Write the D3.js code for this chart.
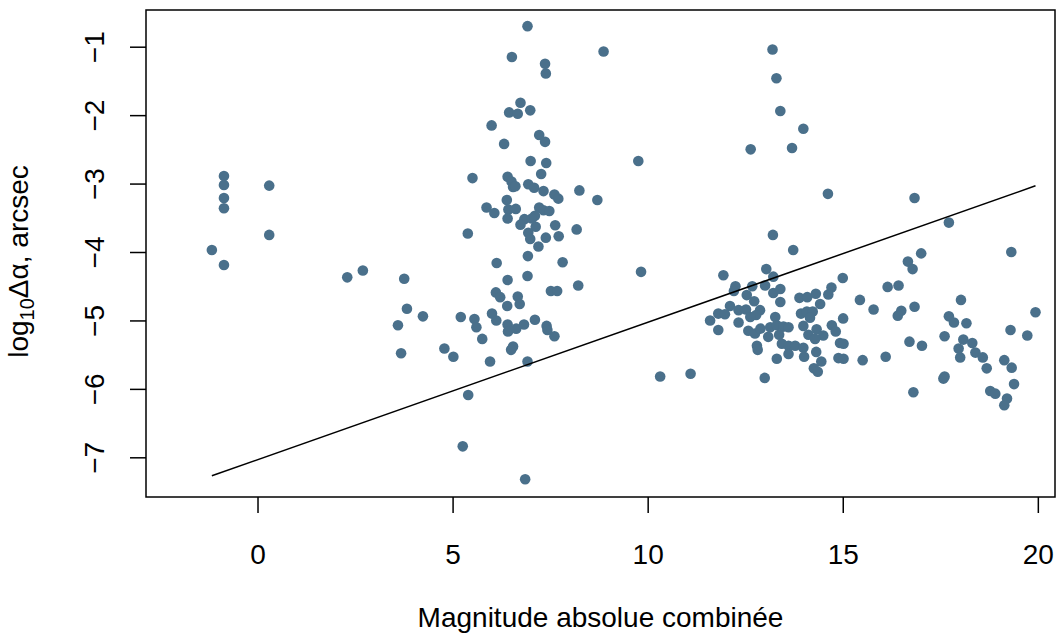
<!DOCTYPE html>
<html>
<head>
<meta charset="utf-8">
<script src="https://cdn.jsdelivr.net/npm/d3@7"></script>
<style>
  html, body { margin: 0; padding: 0; background: #ffffff; }
  svg { display: block; font-family: "Liberation Sans", Arial, Helvetica, sans-serif; }
</style>
</head>
<body>
<svg id="chart" width="1064" height="637"></svg>
<script>
// ---- Data (x = combined absolute magnitude, y = log10 Δα in arcsec) ----
const leftPoints = [
  [-1.17,-3.97],[-0.86,-2.89],[-0.86,-3.02],[-0.86,-3.21],[-0.86,-3.36],[-0.86,-4.19],
  [0.30,-3.03],[0.30,-3.75],[2.30,-4.37],[2.70,-4.27],[3.60,-5.07],[3.68,-5.48],
  [3.76,-4.39],[3.83,-4.83],[4.24,-4.94]
];
const clusterLower = [
  [4.79,-5.41],[5.02,-5.53],[5.21,-4.95],[5.56,-4.98],[5.61,-5.10],[5.76,-5.27],
  [5.96,-5.60],[6.01,-4.90],[6.12,-5.00],[6.13,-4.16],[6.11,-4.59],[6.22,-4.66],
  [6.41,-4.41],[6.40,-4.79],[6.41,-5.06],[6.42,-5.16],[6.63,-5.12],[6.67,-4.65],
  [6.72,-4.76],[6.83,-5.06],[7.11,-4.99],[7.41,-5.08],[7.43,-5.14],[7.61,-5.23],
  [6.55,-5.38],[6.50,-5.43],[6.92,-5.60],[6.92,-4.35],[6.93,-4.06],[7.20,-3.92],
  [7.82,-4.15],[8.22,-4.49],[7.52,-4.57],[7.68,-4.57],[5.40,-6.09],[5.26,-6.84],
  [6.86,-7.32]
];
const clusterUpper = [
  [6.92,-0.70],[6.52,-1.15],[8.87,-1.07],[7.37,-1.25],[7.39,-1.39],[6.74,-1.82],
  [6.45,-1.96],[6.67,-1.98],[6.99,-1.93],[6.00,-2.15],[7.22,-2.29],[7.37,-2.39],
  [6.32,-2.42],[7.00,-2.67],[7.40,-2.70],[7.27,-2.86],[5.51,-2.92],[6.41,-2.90],
  [6.51,-2.97],[6.55,-3.05],[6.61,-3.04],[6.94,-3.01],[7.09,-3.06],[7.33,-3.11],
  [7.61,-3.16],[7.71,-3.22],[8.25,-3.10],[8.71,-3.24],[6.39,-3.24],[5.87,-3.35],
  [6.07,-3.43],[6.43,-3.38],[6.62,-3.37],[6.41,-3.51],[7.22,-3.35],[7.33,-3.39],
  [7.48,-3.40],[7.11,-3.47],[7.03,-3.51],[6.84,-3.52],[6.74,-3.60],[7.13,-3.63],
  [7.63,-3.61],[8.18,-3.67],[5.39,-3.73],[6.94,-3.72],[6.99,-3.81],[7.39,-3.79],
  [7.72,-3.77]
];
const middlePoints = [
  [9.76,-2.67],[9.83,-4.29],[13.20,-1.04],[13.30,-1.46],[13.40,-1.94],[13.99,-2.20],
  [12.64,-2.50],[13.70,-2.48],[14.62,-3.15],[13.21,-3.75],[13.73,-3.97],
  [10.32,-5.82],[11.10,-5.78],[13.00,-5.84]
];
const rightCluster = [
  [11.94,-4.34],[13.04,-4.25],[13.22,-4.36],[12.25,-4.50],[12.21,-4.57],[12.68,-4.50],
  [13.01,-4.49],[15.00,-4.38],[12.54,-4.63],[12.73,-4.72],[13.22,-4.60],[13.40,-4.54],
  [13.40,-4.73],[13.89,-4.67],[14.09,-4.66],[14.31,-4.61],[14.42,-4.76],[14.71,-4.52],
  [14.63,-4.62],[15.44,-4.70],[12.11,-4.79],[11.81,-4.90],[11.98,-4.91],[11.60,-5.00],
  [11.81,-5.14],[12.33,-4.85],[12.52,-4.84],[12.88,-4.85],[12.78,-4.92],[12.63,-4.95],
  [12.33,-5.03],[13.27,-4.95],[13.93,-4.90],[14.08,-4.87],[14.23,-4.87],[14.16,-4.96],
  [15.01,-4.97],[12.58,-5.15],[12.75,-5.19],[12.89,-5.12],[13.14,-5.10],[13.31,-5.07],
  [13.48,-5.09],[13.61,-5.10],[13.09,-5.24],[13.37,-5.21],[13.99,-5.08],[14.12,-5.21],
  [14.33,-5.13],[14.50,-5.22],[14.72,-5.07],[14.82,-5.16],[14.29,-5.27],[13.44,-5.34],
  [13.61,-5.37],[13.78,-5.37],[13.99,-5.40],[13.61,-5.49],[14.01,-5.53],[14.32,-5.46],
  [12.80,-5.37],[12.82,-5.43],[14.93,-5.33],[15.02,-5.34],[13.31,-5.56],[14.45,-5.60],
  [14.89,-5.55],[15.02,-5.56],[15.51,-5.58],[14.26,-5.70],[14.36,-5.75]
];
const farRight = [
  [16.84,-3.21],[17.72,-3.57],[19.32,-4.00],[17.01,-4.02],[16.67,-4.14],[16.79,-4.25],
  [16.15,-4.51],[16.43,-4.49],[18.03,-4.70],[15.79,-4.84],[16.84,-4.80],[16.50,-4.86],
  [16.41,-4.93],[19.94,-4.88],[17.72,-4.94],[17.85,-5.03],[18.17,-5.04],[19.30,-5.14],
  [19.73,-5.22],[17.61,-5.23],[16.71,-5.31],[17.03,-5.37],[18.09,-5.28],[18.32,-5.33],
  [17.97,-5.41],[18.40,-5.47],[18.59,-5.54],[18.01,-5.54],[16.10,-5.53],[19.14,-5.58],
  [19.33,-5.69],[18.69,-5.70],[17.61,-5.82],[17.58,-5.85],[19.39,-5.93],[16.81,-6.05],
  [18.78,-6.03],[18.91,-6.07],[19.21,-6.14],[19.14,-6.24]
];
const fitIntercept = -7.035;
const fitSlope = 0.2007;
const xTicks = [0, 5, 10, 15, 20];
const yTicks = [-7, -6, -5, -4, -3, -2, -1];
const xTitle = "Magnitude absolue combinée";

// ---- Layout ----
const plot = { left: 146, right: 1055, top: 10, bottom: 497 };
const svg = d3.select("#chart");
const points = [].concat(leftPoints, clusterLower, clusterUpper, middlePoints, rightCluster, farRight);

const x = d3.scaleLinear().domain([-2.858, 20.44]).range([plot.left, plot.right]);
const y = d3.scaleLinear().domain([-7.580, -0.4637]).range([plot.bottom, plot.top]);

// Points
svg.append("g").selectAll("circle").data(points).join("circle")
  .attr("cx", d => x(d[0])).attr("cy", d => y(d[1]))
  .attr("r", 5.3).attr("fill", "#4a708b");

// Fitted line
const xMin = d3.min(points, d => d[0]), xMax = d3.max(points, d => d[0]);
svg.append("line")
  .attr("x1", x(xMin)).attr("y1", y(fitIntercept + fitSlope * xMin))
  .attr("x2", x(xMax)).attr("y2", y(fitIntercept + fitSlope * xMax))
  .attr("stroke", "#000").attr("stroke-width", 1.5);

// Box
svg.append("rect")
  .attr("x", plot.left).attr("y", plot.top)
  .attr("width", plot.right - plot.left).attr("height", plot.bottom - plot.top)
  .attr("fill", "none").attr("stroke", "#000").attr("stroke-width", 1.5);

// X axis
const gx = svg.append("g").attr("transform", `translate(0,${plot.bottom})`)
  .call(d3.axisBottom(x).tickValues(xTicks).tickFormat(d3.format("d")).tickSize(16).tickPadding(31).tickSizeOuter(0));
gx.select(".domain").remove();
gx.selectAll(".tick line").attr("stroke", "#000").attr("stroke-width", 1.5);
gx.selectAll(".tick text").attr("font-size", 28).attr("fill", "#000")
  .attr("font-family", "Liberation Sans, Arial, sans-serif");

// Y axis
const gy = svg.append("g").attr("transform", `translate(${plot.left},0)`)
  .call(d3.axisLeft(y).tickValues(yTicks).tickFormat(d3.format("d")).tickSize(16).tickSizeOuter(0));
gy.select(".domain").remove();
gy.selectAll(".tick line").attr("stroke", "#000").attr("stroke-width", 1.5);
gy.selectAll(".tick text")
  .attr("x", null).attr("dy", null)
  .attr("transform", "translate(-42,0) rotate(-90)")
  .attr("text-anchor", "middle")
  .attr("font-size", 28).attr("fill", "#000")
  .attr("font-family", "Liberation Sans, Arial, sans-serif");

// X title
svg.append("text")
  .attr("x", (plot.left + plot.right) / 2).attr("y", 627)
  .attr("text-anchor", "middle").attr("font-size", 28).attr("fill", "#000")
  .text(xTitle);

// Y title: log10 Δα, arcsec
const yt = svg.append("text")
  .attr("transform", `translate(28,${(plot.top + plot.bottom) / 2 + 8}) rotate(-90)`)
  .attr("text-anchor", "middle").attr("font-size", 28).attr("fill", "#000");
yt.append("tspan").text("log");
yt.append("tspan").attr("font-size", 20).attr("dy", 6).text("10");
yt.append("tspan").attr("dy", -6).text("Δα, arcsec");
</script>
</body>
</html>
